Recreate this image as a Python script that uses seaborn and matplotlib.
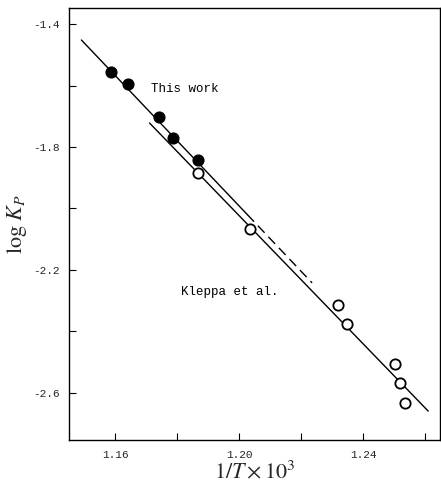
import pandas as pd
import matplotlib
matplotlib.use("Agg")
import matplotlib.pyplot as plt
import seaborn as sns

sns.set_theme(style="ticks")
plt.rcParams['font.family'] = ['Liberation Mono', 'DejaVu Sans']
plt.rcParams['mathtext.fontset'] = 'stix'

# data
this_x = [1.1584, 1.1639, 1.1739, 1.1787, 1.1865]
this_y = [-1.556, -1.595, -1.702, -1.771, -1.842]
kleppa_x = [1.1865, 1.2035, 1.2319, 1.2348, 1.2503, 1.2519, 1.2535]
kleppa_y = [-1.885, -2.067, -2.314, -2.376, -2.506, -2.567, -2.633]

# fitted lines (end points)
this_fit_x = [1.149, 1.2026]
this_fit_y = [-1.452, -2.020]
this_ext_x = [1.2026, 1.2235]
this_ext_y = [-2.020, -2.242]
kleppa_fit_x = [1.1710, 1.2610]
kleppa_fit_y = [-1.722, -2.659]

xticks = [1.16, 1.20, 1.24]
yticks = [-1.4, -1.8, -2.2, -2.6]

fig = plt.figure(figsize=(4.41, 4.83), dpi=100)
ax = fig.add_axes([0.1565, 0.089, 0.8412, 0.8944])

sns.lineplot(x=this_fit_x, y=this_fit_y, ax=ax, color='black', lw=1.0)
sns.lineplot(x=this_ext_x, y=this_ext_y, ax=ax, color='black', lw=1.0, linestyle=(0, (7, 4)))
sns.lineplot(x=kleppa_fit_x, y=kleppa_fit_y, ax=ax, color='black', lw=1.0)

df_this = pd.DataFrame({'x': this_x, 'y': this_y})
df_kl = pd.DataFrame({'x': kleppa_x, 'y': kleppa_y})
sns.scatterplot(data=df_this, x='x', y='y', ax=ax, s=60, color='black',
                edgecolor='black', linewidth=1.0, zorder=3)
sns.scatterplot(data=df_kl, x='x', y='y', ax=ax, s=55, facecolor='white',
                edgecolor='black', linewidth=1.3, zorder=3)

ax.text(1.1716, -1.611, 'This work', fontsize=9, color='black', va='center')
ax.text(1.1813, -2.272, 'Kleppa et al.', fontsize=9, color='black', va='center')

ax.set_xlim(1.145, 1.2648)
ax.set_ylim(-2.753, -1.348)
ax.set_xticks(xticks)
ax.set_xticklabels(['%.2f' % v for v in xticks])
ax.set_xticks([1.18, 1.22, 1.26], minor=True)
ax.set_yticks(yticks)
ax.set_yticklabels(['%.1f' % v for v in yticks])
ax.set_yticks([-1.6, -2.0, -2.4], minor=True)
ax.tick_params(axis='both', which='both', direction='in', labelsize=8, color='black')
ax.tick_params(which='major', length=5, width=0.8, pad=7)
ax.tick_params(which='minor', length=5, width=0.8)
for sp in ax.spines.values():
    sp.set_color('black')
    sp.set_linewidth(1.0)

ax.set_xlabel(r'$1/T\times10^3$', fontsize=16, labelpad=1)
ax.set_ylabel(r'$\log\,K_P$', fontsize=16, labelpad=3)

fig.savefig('out.png', dpi=100)
